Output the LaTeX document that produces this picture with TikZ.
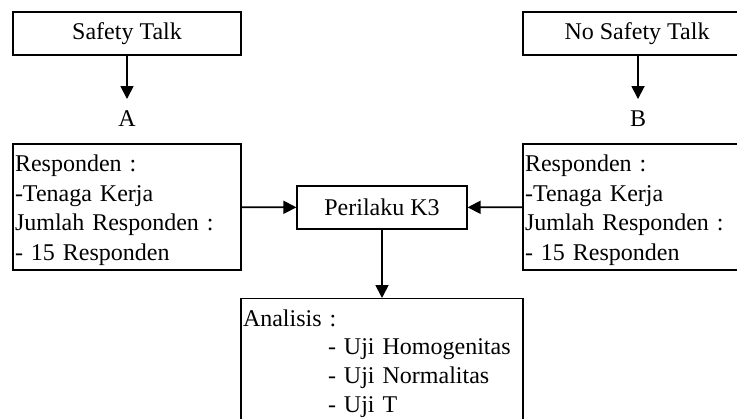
\documentclass[tikz,border=0pt]{standalone}
\usepackage{fontspec}
\setmainfont{Liberation Serif}
\usetikzlibrary{arrows.meta}

\begin{document}
\begin{tikzpicture}[x=0.5pt, y=-0.5pt,
    every node/.style={font=\fontsize{12}{14.8}\selectfont},
    kotak/.style={draw, line width=0.6pt},
    judul/.style={kotak, minimum width=114pt, minimum height=21.5pt, inner sep=0pt},
    isian/.style={kotak, align=left, text width=112pt, minimum height=63pt, inner xsep=1pt, inner ysep=0pt},
    panah/.style={-{Triangle[length=6.5pt, width=6.5pt]}, line width=0.9pt}]
    \useasboundingbox (0,0) rectangle (737,418);

    % kelompok perlakuan
    \node[judul] (st) at (127,33.5) {Safety Talk};
    \node[judul] (nst) at (637,33.5) {No Safety Talk};
    \node (hA) at (127,119) {A};
    \node (hB) at (638,119) {B};
    \draw[panah, shorten >=2.5pt] (st) -- (hA);
    \draw[panah, shorten >=2.5pt] (nst.south -| hB) -- (hB);

    % responden
    \node[isian] (respA) at (127,207) {\rule{0pt}{11.5pt}Responden :\\-Tenaga Kerja\\Jumlah Responden :\\- 15 Responden};
    \node[isian] (respB) at (637,207) {\rule{0pt}{11.5pt}Responden :\\-Tenaga Kerja\\Jumlah Responden :\\- 15 Responden};

    \node[kotak, minimum width=85pt, minimum height=21.5pt, inner sep=0pt] (k3) at (382,207.5) {Perilaku K3};
    \draw[panah] (respA) -- (k3);
    \draw[panah] (respB) -- (k3);

    % analisis data
    \node[kotak, anchor=north, text width=139pt, align=left, inner xsep=1pt, inner ysep=5.5pt,
        font=\fontsize{12}{14.3}\selectfont] (anl) at (382,298)
        {Analisis :\\\hspace*{42.5pt}- Uji Homogenitas\\\hspace*{42.5pt}- Uji Normalitas\\\hspace*{42.5pt}- Uji T};
    \draw[panah] (k3) -- (anl);
\end{tikzpicture}
\end{document}
